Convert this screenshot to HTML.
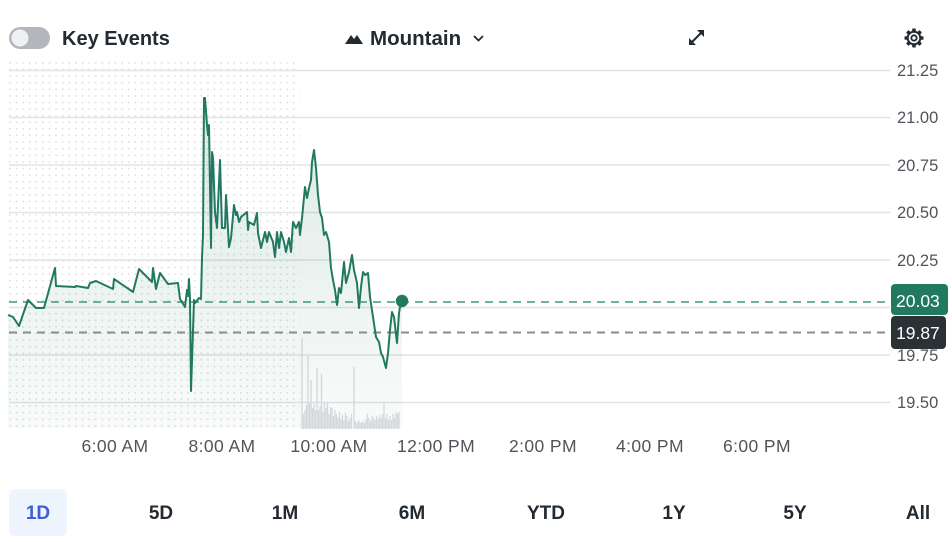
<!DOCTYPE html>
<html><head><meta charset="utf-8"><style>
html,body{margin:0;padding:0;background:#fff;}
body{width:952px;height:542px;overflow:hidden;position:relative;font-family:"Liberation Sans",Arial,sans-serif;}
svg{position:absolute;left:0;top:0;}
</style></head><body>
<svg width="952" height="542" viewBox="0 0 952 542" xmlns="http://www.w3.org/2000/svg">
<defs>
<pattern id="dots" x="9" y="62" width="6.6" height="6.6" patternUnits="userSpaceOnUse">
<rect x="0.2" y="0.2" width="1.4" height="1.4" fill="#d3d5d9"/>
</pattern>
<linearGradient id="fillg" x1="0" y1="0" x2="0" y2="1">
<stop offset="0" stop-color="#247a61" stop-opacity="0.16"/>
<stop offset="1" stop-color="#247a61" stop-opacity="0.03"/>
</linearGradient>
</defs>

<rect x="9" y="27" width="41" height="22" rx="11" fill="#b3b6bb"/>
<circle cx="20" cy="38" r="8.5" fill="#eef0f3"/>
<text x="62" y="45" font-size="20" font-weight="bold" fill="#232a31">Key Events</text>
<path d="M345 44 L351 35 L354 39 L357 35 L363 44 Z" fill="#232a31"/>
<text x="370" y="45" font-size="20.5" font-weight="bold" fill="#232a31">Mountain</text>
<path d="M474 36 L478.5 40.5 L483 36" fill="none" stroke="#232a31" stroke-width="1.8"/>
<g stroke="#232a31" stroke-width="2" fill="#232a31">
<line x1="691" y1="43" x2="702" y2="32"/>
<path d="M689 45 L689 38 L696 45 Z" stroke="none"/>
<path d="M704 30 L704 37 L697 30 Z" stroke="none"/>
</g>
<g transform="translate(914,38)" fill="#232a31">
<rect x="-1.8" y="-9.5" width="3.6" height="4" rx="0.8"/>
<rect x="-1.8" y="-9.5" width="3.6" height="4" rx="0.8" transform="rotate(45)"/>
<rect x="-1.8" y="-9.5" width="3.6" height="4" rx="0.8" transform="rotate(90)"/>
<rect x="-1.8" y="-9.5" width="3.6" height="4" rx="0.8" transform="rotate(135)"/>
<rect x="-1.8" y="-9.5" width="3.6" height="4" rx="0.8" transform="rotate(180)"/>
<rect x="-1.8" y="-9.5" width="3.6" height="4" rx="0.8" transform="rotate(225)"/>
<rect x="-1.8" y="-9.5" width="3.6" height="4" rx="0.8" transform="rotate(270)"/>
<rect x="-1.8" y="-9.5" width="3.6" height="4" rx="0.8" transform="rotate(315)"/>
<circle r="6.3" fill="none" stroke="#232a31" stroke-width="2"/>
<circle r="2.7" fill="none" stroke="#232a31" stroke-width="1.8"/>
</g>

<rect x="9" y="62" width="291" height="366" fill="url(#dots)"/>

<g stroke="#e2e3e7" stroke-width="1.5">
<line x1="9" y1="70.5" x2="890" y2="70.5"/>
<line x1="9" y1="117.5" x2="890" y2="117.5"/>
<line x1="9" y1="165" x2="890" y2="165"/>
<line x1="9" y1="212.5" x2="890" y2="212.5"/>
<line x1="9" y1="260" x2="890" y2="260"/>
<line x1="9" y1="307.5" x2="890" y2="307.5"/>
<line x1="9" y1="355" x2="890" y2="355"/>
<line x1="9" y1="402.5" x2="890" y2="402.5"/>
</g>

<g stroke="#d9dbdf" stroke-width="1.3">
<line x1="302" y1="429" x2="302" y2="338"/>
<line x1="303.5" y1="429" x2="303.5" y2="414"/>
<line x1="305" y1="429" x2="305" y2="410"/>
<line x1="306.5" y1="429" x2="306.5" y2="405"/>
<line x1="308" y1="429" x2="308" y2="356"/>
<line x1="309.5" y1="429" x2="309.5" y2="404"/>
<line x1="311" y1="429" x2="311" y2="380"/>
<line x1="312.5" y1="429" x2="312.5" y2="408"/>
<line x1="314" y1="429" x2="314" y2="404"/>
<line x1="315.5" y1="429" x2="315.5" y2="410"/>
<line x1="317" y1="429" x2="317" y2="368"/>
<line x1="318.5" y1="429" x2="318.5" y2="410"/>
<line x1="320" y1="429" x2="320" y2="406"/>
<line x1="321.5" y1="429" x2="321.5" y2="374"/>
<line x1="323" y1="429" x2="323" y2="412"/>
<line x1="324.5" y1="429" x2="324.5" y2="402"/>
<line x1="326" y1="429" x2="326" y2="408"/>
<line x1="327.5" y1="429" x2="327.5" y2="403"/>
<line x1="329" y1="429" x2="329" y2="414"/>
<line x1="330.5" y1="429" x2="330.5" y2="407"/>
<line x1="332" y1="429" x2="332" y2="408"/>
<line x1="333.5" y1="429" x2="333.5" y2="416"/>
<line x1="335" y1="429" x2="335" y2="410"/>
<line x1="336.5" y1="429" x2="336.5" y2="414"/>
<line x1="338" y1="429" x2="338" y2="418"/>
<line x1="339.5" y1="429" x2="339.5" y2="412"/>
<line x1="341" y1="429" x2="341" y2="419"/>
<line x1="342.5" y1="429" x2="342.5" y2="415"/>
<line x1="344" y1="429" x2="344" y2="420"/>
<line x1="345.5" y1="429" x2="345.5" y2="413"/>
<line x1="347" y1="429" x2="347" y2="416"/>
<line x1="348.5" y1="429" x2="348.5" y2="421"/>
<line x1="350" y1="429" x2="350" y2="418"/>
<line x1="351.5" y1="429" x2="351.5" y2="414"/>
<line x1="354" y1="429" x2="354" y2="367"/>
<line x1="355.5" y1="429" x2="355.5" y2="421"/>
<line x1="357" y1="429" x2="357" y2="423"/>
<line x1="358.5" y1="429" x2="358.5" y2="420"/>
<line x1="360" y1="429" x2="360" y2="422"/>
<line x1="361.5" y1="429" x2="361.5" y2="423"/>
<line x1="363" y1="429" x2="363" y2="421"/>
<line x1="364.5" y1="429" x2="364.5" y2="423"/>
<line x1="366" y1="429" x2="366" y2="419"/>
<line x1="367.5" y1="429" x2="367.5" y2="414"/>
<line x1="369" y1="429" x2="369" y2="418"/>
<line x1="370.5" y1="429" x2="370.5" y2="421"/>
<line x1="372" y1="429" x2="372" y2="416"/>
<line x1="373.5" y1="429" x2="373.5" y2="418"/>
<line x1="375" y1="429" x2="375" y2="420"/>
<line x1="376.5" y1="429" x2="376.5" y2="416"/>
<line x1="378" y1="429" x2="378" y2="419"/>
<line x1="379.5" y1="429" x2="379.5" y2="415"/>
<line x1="381" y1="429" x2="381" y2="418"/>
<line x1="382.5" y1="429" x2="382.5" y2="414"/>
<line x1="384" y1="429" x2="384" y2="403"/>
<line x1="385.5" y1="429" x2="385.5" y2="418"/>
<line x1="387" y1="429" x2="387" y2="414"/>
<line x1="388.5" y1="429" x2="388.5" y2="420"/>
<line x1="390" y1="429" x2="390" y2="416"/>
<line x1="391.5" y1="429" x2="391.5" y2="420"/>
<line x1="393" y1="429" x2="393" y2="414"/>
<line x1="394.5" y1="429" x2="394.5" y2="418"/>
<line x1="396" y1="429" x2="396" y2="412"/>
<line x1="397.5" y1="429" x2="397.5" y2="414"/>
<line x1="399" y1="429" x2="399" y2="412"/>
</g>

<polygon fill="url(#fillg)" points="8,315 13,317 19,326 28,300 36,308 44,308 55,268 56,286 75,287 76,286 88,288 90,283 96,281 113,289 114,279 133,292 139,269 152,282 153,268 156,289 160,273 168,284 178,283 180,299 185,307 187,290 188,296 189,279 190,300 191,391 193,330 194,300 195,303 199,298 201,299 202,258 203,235 204,98 205,98 207,125 208,135 209,125 211,248 212,152 213,158 215,212 217,228 220,160 222,228 225,228 226,195 229,247 231,238 234,205 236,215 237,212 239,222 241,217 247,212 248,230 249,222 254,225 257,213 258,233 261,248 265,232 267,242 269,232 273,242 275,257 277,232 279,248 281,232 284,242 286,252 289,238 291,252 293,222 296,228 299,222 300,235 302,218 305,187 307,198 309,188 311,180 312,162 314,150 316,168 318,195 320,212 322,218 324,235 326,232 329,242 331,268 333,280 335,290 337,305 339,288 341,293 344,262 346,283 349,272 352,255 354,270 357,283 359,308 361,287 363,272 365,275 368,273 370,297 373,317 376,337 379,342 381,353 383,357 386,368 388,353 390,330 392,312 394,317 397,343 399,313 400,307 402,301 402,428 8,428"/>

<line x1="9" y1="302" x2="891" y2="302" stroke="#3d9878" stroke-width="1.5" stroke-dasharray="8 6"/>
<line x1="9" y1="332.5" x2="891" y2="332.5" stroke="#8a8c8f" stroke-width="2" stroke-dasharray="8 6"/>

<polyline fill="none" stroke="#217a5f" stroke-width="2" stroke-linejoin="round" points="8,315 13,317 19,326 28,300 36,308 44,308 55,268 56,286 75,287 76,286 88,288 90,283 96,281 113,289 114,279 133,292 139,269 152,282 153,268 156,289 160,273 168,284 178,283 180,299 185,307 187,290 188,296 189,279 190,300 191,391 193,330 194,300 195,303 199,298 201,299 202,258 203,235 204,98 205,98 207,125 208,135 209,125 211,248 212,152 213,158 215,212 217,228 220,160 222,228 225,228 226,195 229,247 231,238 234,205 236,215 237,212 239,222 241,217 247,212 248,230 249,222 254,225 257,213 258,233 261,248 265,232 267,242 269,232 273,242 275,257 277,232 279,248 281,232 284,242 286,252 289,238 291,252 293,222 296,228 299,222 300,235 302,218 305,187 307,198 309,188 311,180 312,162 314,150 316,168 318,195 320,212 322,218 324,235 326,232 329,242 331,268 333,280 335,290 337,305 339,288 341,293 344,262 346,283 349,272 352,255 354,270 357,283 359,308 361,287 363,272 365,275 368,273 370,297 373,317 376,337 379,342 381,353 383,357 386,368 388,353 390,330 392,312 394,317 397,343 399,313 400,307 402,301"/>
<circle cx="402" cy="301" r="6.2" fill="#217a5f"/>

<g font-size="16.5" fill="#50555b">
<text x="897" y="76">21.25</text>
<text x="897" y="123">21.00</text>
<text x="897" y="171">20.75</text>
<text x="897" y="218">20.50</text>
<text x="897" y="266">20.25</text>
<text x="897" y="361">19.75</text>
<text x="897" y="408">19.50</text>
</g>
<rect x="891" y="316" width="55" height="33" rx="4" fill="#2b3236"/>
<text x="896" y="339" font-size="17.5" fill="#ffffff">19.87</text>
<rect x="891" y="284" width="57" height="31" rx="4" fill="#217a5f"/>
<text x="896" y="307" font-size="17.5" fill="#ffffff">20.03</text>

<g font-size="17.5" fill="#50555b" text-anchor="middle" letter-spacing="0.4">
<text x="115" y="452">6:00 AM</text>
<text x="222" y="452">8:00 AM</text>
<text x="329" y="452">10:00 AM</text>
<text x="436" y="452">12:00 PM</text>
<text x="543" y="452">2:00 PM</text>
<text x="650" y="452">4:00 PM</text>
<text x="757" y="452">6:00 PM</text>
</g>

<rect x="9" y="489" width="58" height="47" rx="6" fill="#eff5ff"/>
<g font-size="19" font-weight="bold" fill="#232a31" text-anchor="middle">
<text x="38" y="519" fill="#3d5ed6">1D</text>
<text x="161" y="519">5D</text>
<text x="285" y="519">1M</text>
<text x="412" y="519">6M</text>
<text x="546" y="519">YTD</text>
<text x="674" y="519">1Y</text>
<text x="795" y="519">5Y</text>
<text x="918" y="519">All</text>
</g>
</svg>
</body></html>
